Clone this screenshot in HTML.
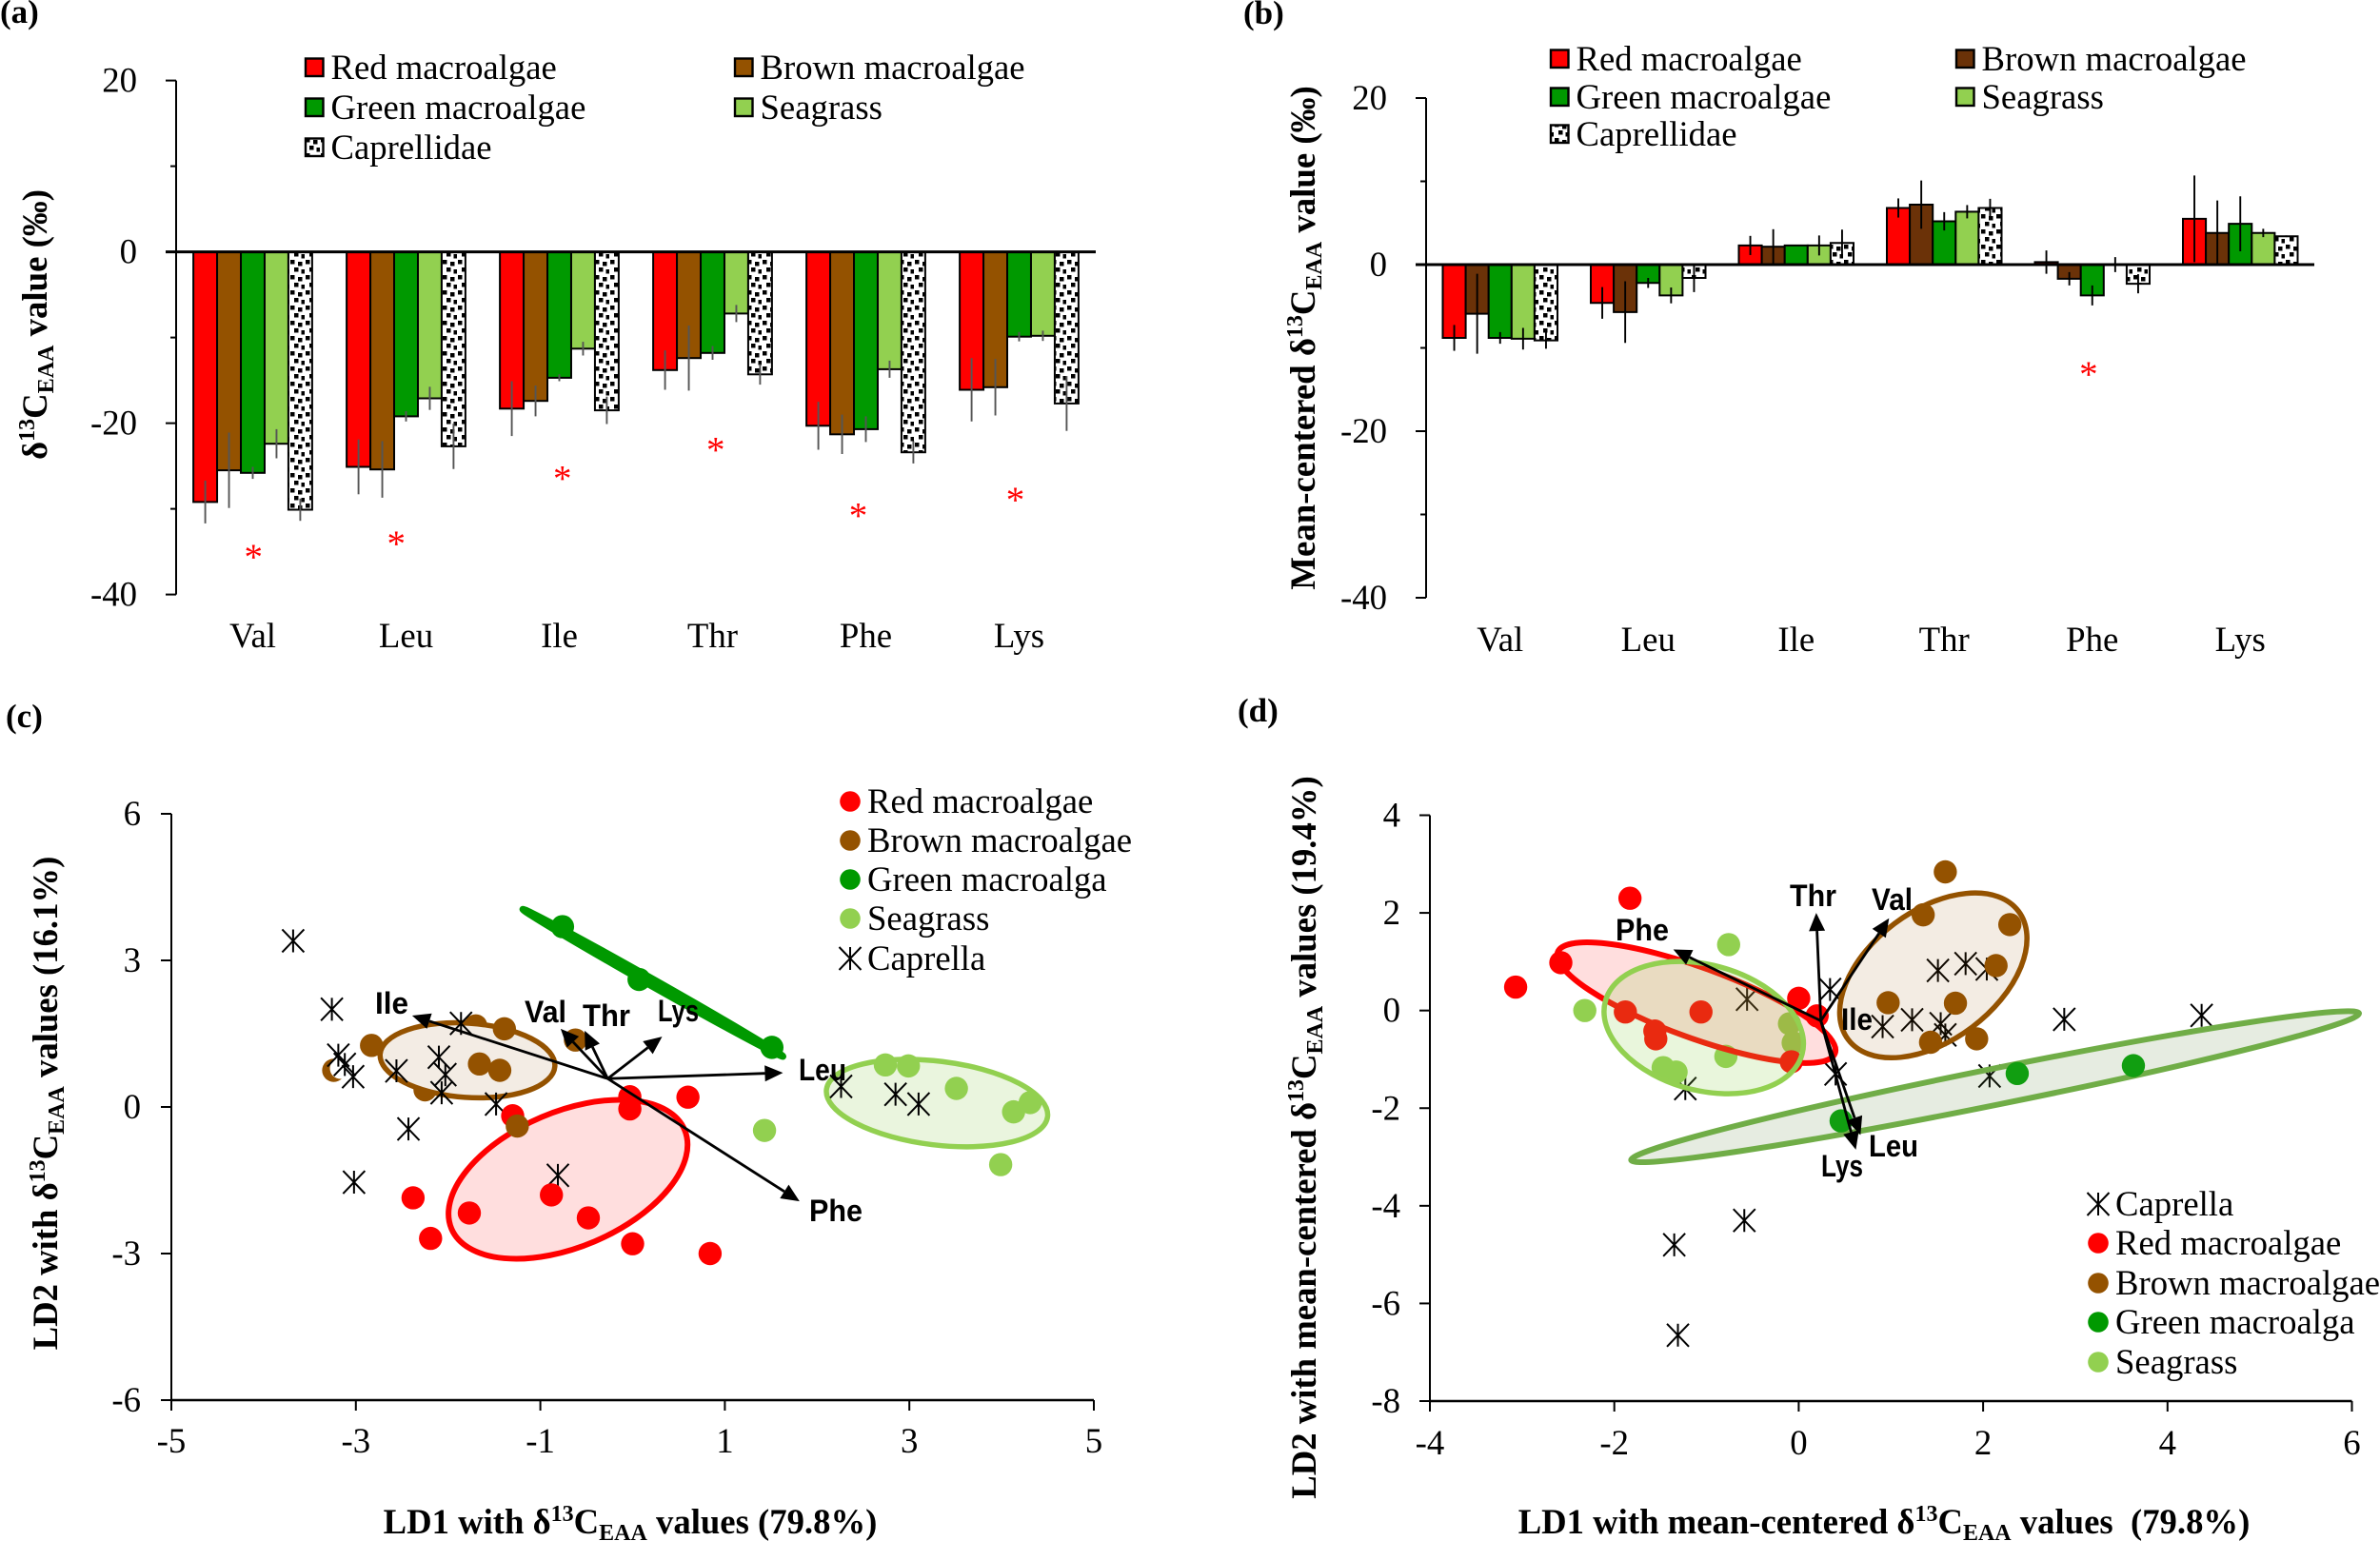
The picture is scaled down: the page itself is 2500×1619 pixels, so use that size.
<!DOCTYPE html>
<html lang="en">
<head>
<meta charset="utf-8">
<title>δ13C EAA values and LDA of macroalgae, seagrass and Caprellidae</title>
<style>
html,body{margin:0;padding:0;background:#fff;}
svg{display:block;}
text{font-family:"Liberation Serif","DejaVu Serif",serif;fill:#000;}
.tick{font-size:36.8px;}
.legend{font-size:36.7px;}
.ttl{font-size:36.7px;font-weight:bold;}
.ttl2{font-size:36.8px;font-weight:bold;}
.plab{font-size:35px;font-weight:bold;}
.vec{font-family:"Liberation Sans","DejaVu Sans",sans-serif;font-size:32px;font-weight:bold;}
</style>
</head>
<body>
<svg id="fig" xmlns="http://www.w3.org/2000/svg" width="2500" height="1619" viewBox="0 0 2500 1619">
<defs>
<pattern id="capdots" patternUnits="userSpaceOnUse" width="16" height="16">
<rect width="16" height="16" fill="#fff"/>
<rect x="1" y="1" width="4.5" height="4.5" fill="#000"/>
<rect x="9" y="3" width="4.5" height="4.5" fill="#000"/>
<rect x="5" y="9" width="4.5" height="4.5" fill="#000"/>
<rect x="12.5" y="11" width="3.5" height="4.5" fill="#000"/>
</pattern>
</defs>
<rect width="2500" height="1619" fill="#fff"/>

<text class="plab" x="0" y="24">(a)</text>
<text class="plab" x="1306" y="25">(b)</text>
<text class="plab" x="6" y="764">(c)</text>
<text class="plab" x="1300" y="758">(d)</text>

<text class="ttl2" transform="translate(49 341) rotate(-90)" text-anchor="middle">δ<tspan font-size="24" dy="-13">13</tspan><tspan dy="13">C</tspan><tspan font-size="24" dy="7">EAA</tspan><tspan dy="-7"> value (‰)</tspan></text>
<text class="ttl2" transform="translate(1381 355) rotate(-90)" text-anchor="middle">Mean-centered δ<tspan font-size="24" dy="-13">13</tspan><tspan dy="13">C</tspan><tspan font-size="24" dy="7">EAA</tspan><tspan dy="-7"> value (‰)</tspan></text>
<text class="ttl" transform="translate(60 1159) rotate(-90)" text-anchor="middle">LD2 with δ<tspan font-size="24" dy="-13">13</tspan><tspan dy="13">C</tspan><tspan font-size="24" dy="7">EAA</tspan><tspan dy="-7"> values (16.1%)</tspan></text>
<text class="ttl" transform="translate(1382 1195) rotate(-90)" text-anchor="middle">LD2 with mean-centered δ<tspan font-size="24" dy="-13">13</tspan><tspan dy="13">C</tspan><tspan font-size="24" dy="7">EAA</tspan><tspan dy="-7"> values (19.4%)</tspan></text>
<text class="ttl" x="662" y="1611" text-anchor="middle">LD1 with δ<tspan font-size="24" dy="-13">13</tspan><tspan dy="13">C</tspan><tspan font-size="24" dy="7">EAA</tspan><tspan dy="-7"> values (79.8%)</tspan></text>
<text class="ttl" x="1979" y="1611" text-anchor="middle">LD1 with mean-centered δ<tspan font-size="24" dy="-13">13</tspan><tspan dy="13">C</tspan><tspan font-size="24" dy="7">EAA</tspan><tspan dy="-7"> values &#160;(79.8%)</tspan></text>

<g id="root"></g>
</svg>
<script>
// ---------- shared categories and colours ----------
const categories = ['Val','Leu','Ile','Thr','Phe','Lys'];
const seriesNames = ['Red macroalgae','Brown macroalgae','Green macroalgae','Seagrass','Caprellidae'];

// ---------- panel (a) bar values ----------
const aRed   = [-29.2,-25.1,-18.3,-13.8,-20.3,-16.1];
const aBrown = [-25.5,-25.4,-17.4,-12.4,-21.3,-15.8];
const aGreen = [-25.8,-19.2,-14.7,-11.8,-20.7,-9.9];
const aSea   = [-22.4,-17.1,-11.3,-7.2,-13.7,-9.8];
const aCap   = [-30.1,-22.7,-18.5,-14.3,-23.4,-17.7];
const aRedErr   = [2.5,3.2,3.2,2.3,2.8,3.7];
const aBrownErr = [4.4,3.3,1.8,3.8,2.3,3.3];
const aGreenErr = [0.7,0.6,0.4,0.8,1.5,0.55];
const aSeaErr   = [1.7,1.35,0.8,1.0,1.0,0.6];
const aCapErr   = [1.3,2.65,1.6,1.2,1.3,3.2];
const aStarValues = [-35.15,-33.6,-26,-22.65,-30.3,-28.5];
const aStarShift  = [0.005,-0.064,0.02,0.02,-0.05,-0.025];
const aTickLabels = [20,0,-20,-40];

// ---------- panel (b) bar values ----------
const bRed   = [-8.8,-4.6,2.3,6.8,0.3,5.5];
const bBrown = [-5.9,-5.7,2.15,7.2,-1.7,3.8];
const bGreen = [-8.8,-2.2,2.3,5.2,-3.7,4.9];
const bSea   = [-8.9,-3.7,2.3,6.35,0,3.8];
const bCap   = [-9.1,-1.6,2.6,6.8,-2.3,3.4];
const bRedErr   = [1.55,1.9,1.15,1.15,1.4,5.2];
const bBrownErr = [4.8,3.7,2.1,2.9,0.8,3.9];
const bGreenErr = [0.7,0.6,0.05,1.1,1.2,3.3];
const bSeaErr   = [1.3,0.95,1.2,0.8,0.9,0.5];
const bCapErr   = [1.0,1.7,1.6,1.1,1.15,0.1];
const bStarValues = [-12.7];
const bStarCats   = [4];
const bStarShift  = [-0.025];
const bTickLabels = [20,0,-20,-40];

// ---------- panel (c) scatter values ----------
const cRedX = [-0.03,-0.03,0.6,-1.3,-0.88,-2.38,-1.77,-0.48,-2.19,0,0.84];
const cRedY = [0.21,-0.04,0.2,-0.18,-1.8,-1.86,-2.17,-2.27,-2.69,-2.8,-3.0];
const cBrownBackX = [-2.83,-1.7,-2.25,-3.24];
const cBrownBackY = [1.26,1.66,0.35,0.75];
const cBrownX = [-1.39,-1.66,-1.44,-0.62,-1.25];
const cBrownY = [1.6,0.88,0.75,1.37,-0.39];
const cGreenX = [-0.76,0.07,1.51];
const cGreenY = [3.69,2.61,1.22];
const cSeaX = [2.74,2.99,3.51,4.13,4.31,3.99,1.43];
const cSeaY = [0.86,0.84,0.38,-0.1,0.09,-1.18,-0.48];
const cCapX = [-3.68,-3.26,-3.19,-3.12,-3.03,-2.56,-2.1,-2.03,-2.07,-1.86,-1.48,-2.43,-3.02,-0.81,2.26,2.85,3.1];
const cCapY = [3.4,2.0,1.06,0.87,0.62,0.74,1.02,0.66,0.29,1.71,0.06,-0.45,-1.54,-1.4,0.42,0.26,0.06];
const cVectorNames = ['Ile','Val','Thr','Lys','Leu','Phe'];
const cVectorX = [-2.39,-0.78,-0.52,0.32,1.63,1.81];
const cVectorY = [1.87,1.6,1.56,1.44,0.7,-1.93];
const cVectorOriginX = -0.27;
const cVectorOriginY = 0.58;
const cXTicks = [-5,-3,-1,1,3,5];
const cYTicks = [6,3,0,-3,-6];

// ---------- panel (d) scatter values ----------
const dRedX = [-3.07,-2.58,-1.83,-1.88,-1.56,-1.55,-1.06,0,0.2,-0.08];
const dRedY = [0.48,0.98,2.3,-0.03,-0.42,-0.58,-0.03,0.25,-0.11,-1.05];
const dBrownX = [1.59,1.35,2.29,2.14,0.97,1.7,1.43,1.93];
const dBrownY = [2.84,1.96,1.76,0.92,0.16,0.15,-0.65,-0.58];
const dGreenX = [0.46,2.37,3.63];
const dGreenY = [-2.26,-1.29,-1.13];
const dSeaX = [-0.76,-2.32,-0.1,-0.06,-0.79,-1.47,-1.33];
const dSeaY = [1.35,0,-0.27,-0.66,-0.94,-1.17,-1.26];
const dCapX = [0.34,-0.56,0.91,1.23,1.51,1.81,2.04,1.54,1.59,2.88,4.37,2.07,0.4,-1.23,-0.59,-1.35,-1.31];
const dCapY = [0.43,0.23,-0.33,-0.19,0.82,0.96,0.85,-0.27,-0.5,-0.18,-0.1,-1.34,-1.3,-1.6,-4.3,-4.8,-6.65];
const dVectorNames = ['Thr','Val','Phe','Leu','Lys'];
const dVectorX = [0.19,0.98,-1.36,0.67,0.62];
const dVectorY = [2.0,1.89,1.25,-2.55,-2.85];
const dVectorOriginX = 0.24;
const dVectorOriginY = -0.21;
const dXTicks = [-4,-2,0,2,4,6];
const dYTicks = [4,2,0,-2,-4,-6,-8];

// ---------- helpers ----------
const NS = 'http://www.w3.org/2000/svg';
const root = document.getElementById('root');
function el(tag, attrs, parent) {
  const n = document.createElementNS(NS, tag);
  for (const k in attrs) n.setAttribute(k, attrs[k]);
  (parent || root).appendChild(n);
  return n;
}
function label(str, x, y, cls, anchor, parent) {
  const t = el('text', {x: x, y: y, class: cls, 'text-anchor': anchor || 'start'}, parent);
  t.textContent = str;
  return t;
}
function slug(s) { return String(s).toLowerCase().replace(/[^a-z0-9]+/g, '-'); }

const COL = {red:'#ff0000', brown:'#945200', brownDark:'#6b3208', green:'#009900', sea:'#92d050'};

// ---------- bar panels ----------
function drawBarPanel(id, left, right, zeroY, pxPerUnit, tickX, tickLabelX, catBase, brown, errColor, series, errors, ticks) {
  const g = el('g', {});
  
  
  const y = v => zeroY - v * pxPerUnit;
  const catW = (right - left) / categories.length;
  const barW = catW * 0.155;
  const x = i => left + catW * (i + 0.5);
  const fills = [COL.red, brown, COL.green, COL.sea, 'url(#capdots)'];
  series.forEach((vals, s) => {
    vals.forEach((v, c) => {
      const bx = x(c) - 2.5 * barW + s * barW;
      const top = Math.min(y(v), y(0));
      const h = Math.abs(y(v) - y(0));
      const bar = el('rect', {x: bx, y: top, width: barW, height: h, fill: fills[s], stroke: '#000', 'stroke-width': 2}, g);
      
      
    });
  });
  series.forEach((vals, s) => {
    vals.forEach((v, c) => {
      const ex = x(c) - 2 * barW + s * barW;
      const err = el('line', {x1: ex, x2: ex, y1: y(v - errors[s][c]), y2: y(v + errors[s][c]), stroke: errColor, 'stroke-width': 1.9}, g);
      
      
    });
  });
  const yAxis = el('line', {x1: left, x2: left, y1: y(ticks[0]), y2: y(ticks[ticks.length - 1]), stroke: '#000', 'stroke-width': 2}, g);
  
  
  const zero = el('line', {x1: tickX, x2: right, y1: y(0), y2: y(0), stroke: '#000', 'stroke-width': 3}, g);
  
  
  ticks.forEach((t, i) => {
    const tick = el('line', {x1: tickX, x2: left, y1: y(t), y2: y(t), stroke: '#000', 'stroke-width': 2}, g);
    
    
    const lab = label(t, tickLabelX, y(t) + 12, 'tick', 'end', g);
    
    
    if (i < ticks.length - 1) {
      const mid = (t + ticks[i + 1]) / 2;
      const minor = el('line', {x1: left - 6, x2: left, y1: y(mid), y2: y(mid), stroke: '#000', 'stroke-width': 2}, g);
      
      
    }
  });
  categories.forEach((c, i) => {
    const lab = label(c, x(i), catBase, 'tick', 'middle', g);
    
    
  });
  return {x: x, y: y, catW: catW, g: g};
}
function drawSignificance(p, cats, shifts, values) {
  values.forEach((v, i) => {
    const s = label('*', p.x(cats[i]) + shifts[i] * p.catW, p.y(v) + 17, 'tick', 'middle', p.g);
    s.setAttribute('style', 'fill:#ff0000;font-size:39px');
    
    
  });
}
function drawBarLegend(id, col1Swatch, col2Swatch, rows, brown) {
  const g = el('g', {});
  
  
  const place = [[col1Swatch, rows[0]], [col2Swatch, rows[0]], [col1Swatch, rows[1]], [col2Swatch, rows[1]], [col1Swatch, rows[2]]];
  const order = [0, 1, 2, 3, 4];
  const fills = [COL.red, brown, COL.green, COL.sea, 'url(#capdots)'];
  order.forEach((s, i) => {
    const sw = el('rect', {x: place[i][0], y: place[i][1] - 9.5, width: 18.5, height: 18.5, fill: fills[s], stroke: '#000', 'stroke-width': 2.4}, g);
    
    
    const t = label(seriesNames[s], place[i][0] + 26.5, place[i][1] + 12, 'legend', 'start', g);
    
    
  });
}

const panelA = drawBarPanel('a', 185, 1151, 264.6, 9.0, 174, 144, 680, COL.brown, '#555',
  [aRed, aBrown, aGreen, aSea, aCap], [aRedErr, aBrownErr, aGreenErr, aSeaErr, aCapErr], aTickLabels);
drawSignificance(panelA, [0,1,2,3,4,5], aStarShift, aStarValues);
drawBarLegend('a', 321, 772, [71, 113, 155], COL.brown);

const panelB = drawBarPanel('b', 1498, 2431, 278, 8.75, 1487, 1457, 684, COL.brownDark, '#000',
  [bRed, bBrown, bGreen, bSea, bCap], [bRedErr, bBrownErr, bGreenErr, bSeaErr, bCapErr], bTickLabels);
drawSignificance(panelB, bStarCats, bStarShift, bStarValues);
drawBarLegend('b', 1629, 2055, [62, 102, 141], COL.brownDark);

// ---------- scatter panels ----------
function makeAxes(id, left, right, xMin, xMax, top, bottom, yMax, yMin, xTicks, yTicks, tickLabelX, xLabelBase) {
  const g = el('g', {});
  
  
  const x = v => left + (v - xMin) / (xMax - xMin) * (right - left);
  const y = v => top + (yMax - v) / (yMax - yMin) * (bottom - top);
  const xa = el('line', {x1: left, x2: right, y1: bottom, y2: bottom, stroke: '#000', 'stroke-width': 2.4}, g);
  
  
  const ya = el('line', {x1: left, x2: left, y1: top, y2: bottom, stroke: '#000', 'stroke-width': 2}, g);
  
  
  xTicks.forEach(t => {
    const tk = el('line', {x1: x(t), x2: x(t), y1: bottom, y2: bottom + 11, stroke: '#000', 'stroke-width': 2}, g);
    
    
    const lb = label(t, x(t), xLabelBase, 'tick', 'middle', g);
    
    
  });
  yTicks.forEach(t => {
    const tk = el('line', {x1: left - 11, x2: left, y1: y(t), y2: y(t), stroke: '#000', 'stroke-width': 2}, g);
    
    
    const lb = label(t, tickLabelX, y(t) + 12, 'tick', 'end', g);
    
    
  });
  return {x: x, y: y};
}
function dots(ax, xs, ys, color, name) {
  xs.forEach((v, i) => {
    const c = el('circle', {cx: ax.x(v), cy: ax.y(ys[i]), r: 12.2, fill: color});
    
    
  });
}
function starPath(cx, cy) {
  const a = 11.5, b = 12;
  return 'M' + cx + ' ' + (cy - b) + 'V' + (cy + b) +
    'M' + (cx - a) + ' ' + (cy - b) + 'L' + (cx + a) + ' ' + (cy + b) +
    'M' + (cx + a) + ' ' + (cy - b) + 'L' + (cx - a) + ' ' + (cy + b);
}
function stars(ax, xs, ys, name) {
  xs.forEach((v, i) => {
    const p = el('path', {d: starPath(ax.x(v), ax.y(ys[i])), stroke: '#000', 'stroke-width': 2, fill: 'none'});
    
    
  });
}
function ring(cx, cy, rx, ry, tilt, fill, stroke, sw, name) {
  const e = el('ellipse', {cx: cx, cy: cy, rx: rx, ry: ry, transform: 'rotate(' + tilt + ' ' + cx + ' ' + cy + ')', fill: fill, stroke: stroke, 'stroke-width': sw});
  
  
}
function vectors(ax, ox, oy, xs, ys, names) {
  const x0 = ax.x(ox), y0 = ax.y(oy);
  xs.forEach((v, i) => {
    const x1 = ax.x(v), y1 = ax.y(ys[i]);
    const d = Math.hypot(x1 - x0, y1 - y0), ux = (x1 - x0) / d, uy = (y1 - y0) / d;
    const bx = x1 - ux * 19, by = y1 - uy * 19;
    const ln = el('line', {x1: x0, y1: y0, x2: bx, y2: by, stroke: '#000', 'stroke-width': 2.8});
    
    
    const head = el('polygon', {points: x1 + ',' + y1 + ' ' + (bx - uy * 8.5) + ',' + (by + ux * 8.5) + ' ' + (bx + uy * 8.5) + ',' + (by - ux * 8.5), fill: '#000'});
    
    
  });
}
function vecLabel(str, x, y, width) {
  const t = label(str, x, y, 'vec');
  t.setAttribute('textLength', width);
  t.setAttribute('lengthAdjust', 'spacingAndGlyphs');
  
  
}
function scatterLegend(id, dotX, rows, entries) {
  const g = el('g', {});
  
  
  entries.forEach((e, i) => {
    if (e[1]) {
      const c = el('circle', {cx: dotX, cy: rows[i], r: 10.8, fill: e[1]}, g);
      
      
    } else {
      const p = el('path', {d: starPath(dotX, rows[i]), stroke: '#000', 'stroke-width': 2, fill: 'none'}, g);
      
      
    }
    const t = label(e[0], dotX + 18, rows[i] + 12, 'legend', 'start', g);
    
    
  });
}

// ---- panel c ----
const axC = makeAxes('c', 180, 1149, -5, 5, 855, 1471, 6, -6, cXTicks, cYTicks, 148, 1526);
dots(axC, cBrownBackX, cBrownBackY, COL.brown, 'point-brown-macroalgae');
const cMask = el('circle', {cx: axC.x(-3.24) + 7, cy: axC.y(0.75) - 2, r: 11, fill: '#fff'});


ring(axC.x(-0.7), axC.y(-1.48), 133, 71, -23, '#ffdede', COL.red, 6, 'ellipse-red-macroalgae');
ring(axC.x(-1.79), axC.y(0.955), 92, 39, 4, '#f3ece4', COL.brown, 5.5, 'ellipse-brown-macroalgae');
ring(axC.x(0.22), axC.y(2.54), 157, 3.5, 29.5, '#dfeadb', COL.green, 7, 'ellipse-green-macroalgae');
ring(axC.x(3.3), axC.y(0.08), 117, 44, 7, '#eaf5de', COL.sea, 5.5, 'ellipse-seagrass');
stars(axC, cCapX, cCapY, 'point-caprella');
dots(axC, cRedX, cRedY, COL.red, 'point-red-macroalgae');
dots(axC, cBrownX, cBrownY, COL.brown, 'point-brown-macroalgae');
dots(axC, cGreenX, cGreenY, COL.green, 'point-green-macroalga');
dots(axC, cSeaX, cSeaY, COL.sea, 'point-seagrass');
vectors(axC, cVectorOriginX, cVectorOriginY, cVectorX, cVectorY, cVectorNames);
vecLabel('Ile', 394, 1065, 35);
vecLabel('Val', 551, 1074, 44);
vecLabel('Thr', 612, 1078, 50);
vecLabel('Lys', 691, 1073, 43);
vecLabel('Leu', 839, 1135, 50);
vecLabel('Phe', 850, 1283, 56);
scatterLegend('c', 893, [842, 883, 924, 965, 1007], [['Red macroalgae', COL.red], ['Brown macroalgae', COL.brown], ['Green macroalga', COL.green], ['Seagrass', COL.sea], ['Caprella', null]]);

// ---- panel d ----
const axD = makeAxes('d', 1502, 2470.5, -4, 6, 856.5, 1472, 4, -8, dXTicks, dYTicks, 1471, 1528);
stars(axD, dCapX, dCapY, 'point-caprella');
dots(axD, dSeaX, dSeaY, COL.sea, 'point-seagrass');
dots(axD, dRedX, dRedY, COL.red, 'point-red-macroalgae');
ring(axD.x(-1.11), axD.y(0.16), 155, 37, 20, 'rgba(255,0,0,0.13)', COL.red, 6, 'ellipse-red-macroalgae');
ring(axD.x(-1.03), axD.y(-0.35), 107, 66, 15, 'rgba(146,208,80,0.2)', COL.sea, 5.5, 'ellipse-seagrass');
ring(axD.x(1.46), axD.y(0.72), 112, 68, -37, 'rgba(148,82,0,0.11)', COL.brown, 5.5, 'ellipse-brown-macroalgae');
ring(axD.x(2.13), axD.y(-1.56), 390, 19, -11.4, 'rgba(84,130,53,0.15)', '#70ad47', 6, 'ellipse-green-macroalgae');
dots(axD, dBrownX, dBrownY, COL.brown, 'point-brown-macroalgae');
dots(axD, dGreenX, dGreenY, '#119e11', 'point-green-macroalga');
vectors(axD, dVectorOriginX, dVectorOriginY, dVectorX, dVectorY, dVectorNames);
vecLabel('Thr', 1880, 952, 49);
vecLabel('Val', 1966, 956, 43);
vecLabel('Ile', 1934, 1082, 33);
vecLabel('Phe', 1697, 988, 56);
vecLabel('Leu', 1963, 1215, 52);
vecLabel('Lys', 1913, 1236, 44);
scatterLegend('d', 2204, [1265, 1306, 1348, 1389, 1431], [['Caprella', null], ['Red macroalgae', COL.red], ['Brown macroalgae', COL.brown], ['Green macroalga', COL.green], ['Seagrass', COL.sea]]);
</script>
</body>
</html>
